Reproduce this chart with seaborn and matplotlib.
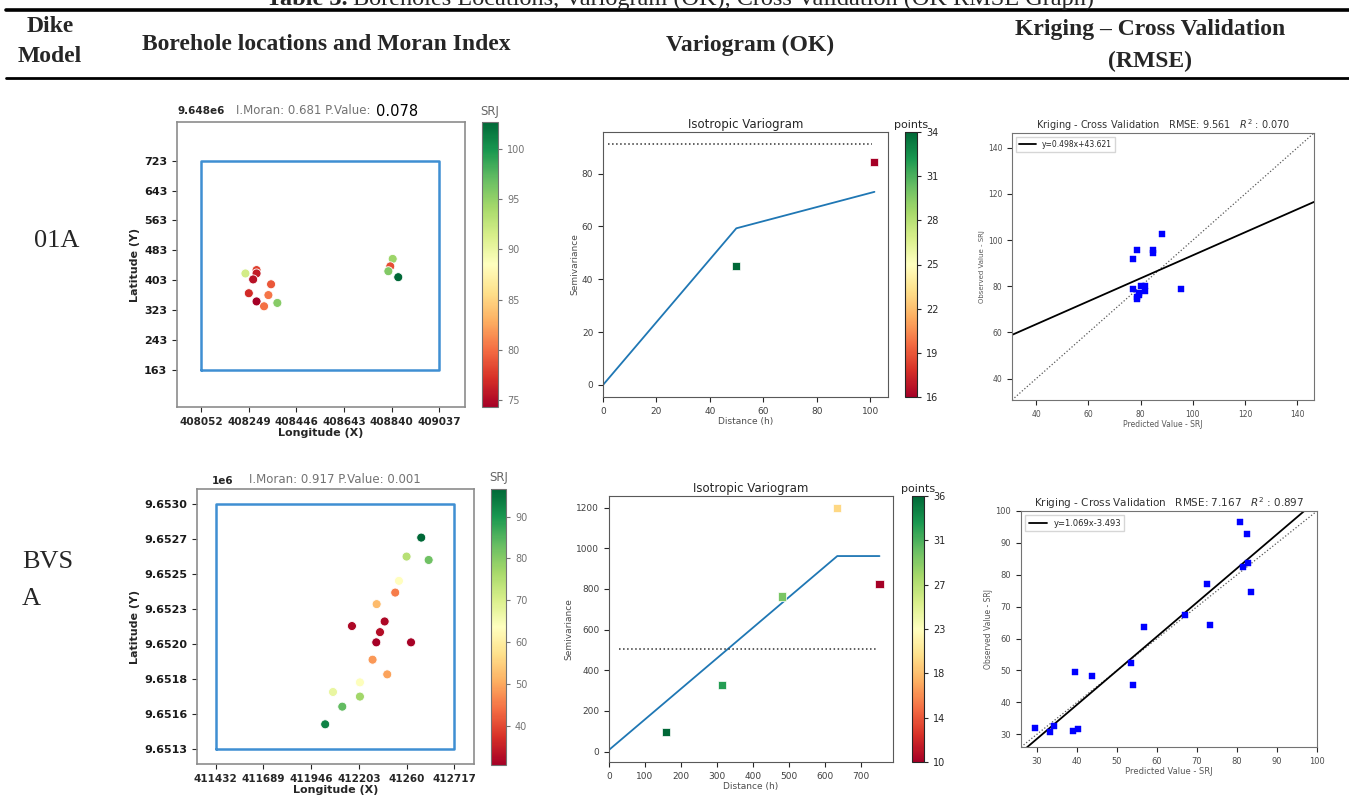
import numpy as np
import matplotlib
matplotlib.use("Agg")
import matplotlib.pyplot as plt
from matplotlib.colors import Normalize
from matplotlib.cm import ScalarMappable
from matplotlib.lines import Line2D
import seaborn as sns

sns.set_style("ticks")
plt.rcParams['font.family'] = ['DejaVu Sans']
plt.rcParams['xtick.major.size'] = 3.5
plt.rcParams['ytick.major.size'] = 3.5

W, H = 1349, 796

# ---------------- 01A ----------------
a_east = [408235, 408281, 408281, 408267, 408341, 408249, 408330,
          408281, 408312, 408367, 408844, 408834, 408826, 408867]
a_north = [9648421, 9648430, 9648421, 9648405, 9648392, 9648368, 9648363,
           9648346, 9648333, 9648342, 9648460, 9648440, 9648427, 9648411]
a_srj = [91.7, 77.9, 76.0, 75.3, 79.0, 76.9, 80.3,
         74.3, 80.1, 95.6, 94.5, 78.6, 95.8, 102.7]
a_rect_x = [408052, 409037]
a_rect_y = [9648163, 9648723]
a_moran = 0.681
a_pvalue = 0.078

a_lags = [49.9, 101.6]
a_gamma = [44.9, 84.5]
a_counts = [34, 16]
a_model_x = [0, 49.9, 101.6]
a_model_y = [0, 59.3, 73.1]
a_sill = 91.2
a_sill_x = [1.9, 100.6]

a_pred = [88.3, 78.6, 84.6, 84.8, 77.2, 95.5, 77.1, 80.3, 81.8, 81.8, 79.4, 79.4, 78.5, 78.7]
a_obs = [102.7, 95.6, 94.5, 95.8, 91.7, 79.0, 78.6, 80.3, 80.1, 77.9, 76.9, 76.0, 75.3, 74.3]
a_slope, a_icpt = 0.498, 43.621
a_rmse, a_r2 = 9.561, 0.070
a_cv_lims = [30.7, 146.4]

# ---------------- BVS A ----------------
b_east = [412539, 412460, 412579, 412419, 412399, 412299, 412166, 412342, 412317,
          412297, 412484, 412277, 412356, 412209, 412064, 412209, 412114, 412022]
b_north = [9652748, 9652620, 9652597, 9652456, 9652377, 9652299, 9652151, 9652182, 9652110,
           9652041, 9652041, 9651924, 9651825, 9651771, 9651706, 9651675, 9651607, 9651488]
b_srj = [96.6, 74.5, 82.4, 63.4, 45.3, 52.2, 31.8, 31.7, 32.5,
         30.6, 31.0, 48.3, 49.4, 64.1, 67.4, 77.1, 83.6, 92.8]
b_rect_x = [411432, 412717]
b_rect_y = [9651320, 9652972]
b_xticklabels = ["411432", "411689", "411946", "412203", "41260", "412717"]
b_moran = 0.917
b_pvalue = 0.001

b_lags = [157.7, 314.5, 480.5, 633.6, 750.7]
b_gamma = [96.6, 325.8, 763.0, 1198.0, 823.5]
b_counts = [36, 33, 30, 20, 10]
b_model_x = [0, 633.6, 750.7]
b_model_y = [8, 962, 962]
b_sill = 506
b_sill_x = [26.7, 743]

b_pred = [29.4, 33.3, 34.2, 39.1, 40.2, 39.6, 43.7, 53.5, 53.9,
          56.7, 67.0, 72.5, 73.3, 80.7, 82.5, 81.5, 82.7, 83.5]
b_obs = [31.9, 30.7, 32.7, 31.1, 31.8, 49.5, 48.4, 52.4, 45.5,
         63.5, 67.5, 77.1, 64.2, 96.6, 92.8, 82.5, 83.7, 74.6]
b_slope, b_icpt = 1.069, -3.493
b_rmse, b_r2 = 7.167, 0.897
b_cv_lims = [26, 100]


def box(l, t, r, b):
    return [l / W, 1 - b / H, (r - l) / W, (b - t) / H]


def fx(px):
    return px / W


def fy(py):
    return 1 - py / H


fig = plt.figure(figsize=(W / 100, H / 100), dpi=100)

# ---------------- table header ----------------
serif = ['Liberation Serif', 'DejaVu Serif']
t1 = fig.text(fx(266), fy(5), "Table 3.", fontsize=17.5, fontweight='bold',
              family=serif, va='baseline')
fig.canvas.draw()
t1_right = t1.get_window_extent().x1
fig.text(t1_right / W + fx(5), fy(5),
         "Boreholes Locations, Variogram (OK), Cross Validation (OK RMSE Graph)",
         fontsize=17.5, family=serif, va='baseline')
fig.add_artist(Line2D([fx(6), 1], [fy(10), fy(10)], lw=2.6, color='k'))
fig.add_artist(Line2D([fx(6), 1], [fy(78), fy(78)], lw=2.0, color='k'))
hdr = dict(fontsize=17, fontweight='bold', family=serif, ha='center', va='center')
fig.text(fx(50), fy(27), "Dike", **hdr)
fig.text(fx(50), fy(56), "Model", **hdr)
fig.text(fx(326), fy(45), "Borehole locations and Moran Index", **hdr)
fig.text(fx(750), fy(45), "Variogram (OK)", **hdr)
fig.text(fx(1150), fy(30), "Kriging \u2013 Cross Validation", **hdr)
fig.text(fx(1150), fy(61), "(RMSE)", **hdr)
row = dict(fontsize=19, family=serif, va='center')
fig.text(fx(57), fy(241), "01A", ha='center', **row)
fig.text(fx(22), fy(562), "BVS", ha='left', **row)
fig.text(fx(22), fy(599), "A", ha='left', **row)


def moran_panel(axbox, cbox, east, north, srj, rect_x, rect_y, ylab_fmt, xlabels,
                offset_txt, offset_pos, moran, pval, title_pos, big_p):
    ax = fig.add_axes(box(*axbox))
    cax = fig.add_axes(box(*cbox))
    norm = Normalize(min(srj), max(srj))
    ax.plot([rect_x[0], rect_x[1], rect_x[1], rect_x[0], rect_x[0]],
            [rect_y[0], rect_y[0], rect_y[1], rect_y[1], rect_y[0]],
            color='#3f8fd2', lw=1.8, zorder=2)
    sns.scatterplot(x=east, y=north, hue=srj, palette='RdYlGn', hue_norm=(min(srj), max(srj)),
                    s=42, edgecolor='white', linewidth=0.6, legend=False, ax=ax, zorder=3)
    ax.set_xlim(rect_x[0] - 100, rect_x[1] + 106)
    ax.set_ylim(rect_y[0] - 100, rect_y[1] + 104)
    xt = np.linspace(rect_x[0], rect_x[1], 6)
    yt = np.linspace(rect_y[0], rect_y[1], 8)
    ax.set_xticks(xt)
    ax.set_xticklabels(xlabels if xlabels else [f"{v:.0f}" for v in xt],
                       fontsize=7.5, fontweight='bold', color='0.15')
    ax.set_yticks(yt)
    ax.set_yticklabels([ylab_fmt(v) for v in yt], fontsize=8, fontweight='bold', color='0.1')
    ax.set_xlabel("Longitude (X)", fontsize=8, fontweight='bold', labelpad=1)
    ax.set_ylabel("Latitude (Y)", fontsize=8, fontweight='bold', labelpad=3)
    for sp in ax.spines.values():
        sp.set_color('0.55')
        sp.set_linewidth(1.2)
    cb = fig.colorbar(ScalarMappable(norm=norm, cmap='RdYlGn'), cax=cax)
    cb.outline.set_edgecolor('0.45')
    cax.tick_params(labelsize=7, labelcolor='0.45', color='0.45', length=3)
    fig.text(fx(cbox[0] + 8), fy(cbox[1] - 11), "SRJ", fontsize=8.5, color='0.4',
             ha='center', va='center')
    fig.text(fx(offset_pos[0]), fy(offset_pos[1]), offset_txt, fontsize=7.5,
             fontweight='bold', va='center', ha='left')
    if big_p:
        fig.text(fx(title_pos[0]), fy(title_pos[1]), f"I.Moran: {moran:.3f} P.Value:",
                 fontsize=8.5, color='0.45', ha='right', va='center')
        fig.text(fx(title_pos[0] + 6), fy(title_pos[1]), f"{pval:.3f}",
                 fontsize=10.5, color='k', ha='left', va='center')
    else:
        fig.text(fx(title_pos[0]), fy(title_pos[1]),
                 f"I.Moran: {moran:.3f} P.Value: {pval:.3f}",
                 fontsize=8.5, color='0.45', ha='center', va='center')
    return ax


def variogram_panel(axbox, cbox, lags, gamma, counts, model_x, model_y, sill, sill_x):
    ax = fig.add_axes(box(*axbox))
    cax = fig.add_axes(box(*cbox))
    sns.lineplot(x=model_x, y=model_y, color='#1f77b4', lw=1.3, ax=ax)
    ax.plot(sill_x, [sill, sill], ls=':', color='0.2', lw=1.1)
    sns.scatterplot(x=lags, y=gamma, hue=counts, palette='RdYlGn',
                    hue_norm=(min(counts), max(counts)), marker='s', s=34,
                    edgecolor='white', linewidth=0.5, legend=False, ax=ax, zorder=3)
    ax.set_xlim(left=0)
    ax.set_title("Isotropic Variogram", fontsize=8.5, pad=3)
    ax.set_xlabel("Distance (h)", fontsize=6.5, labelpad=1, color='0.3')
    ax.set_ylabel("Semivariance", fontsize=6.5, labelpad=2, color='0.3')
    ax.tick_params(labelsize=6.5, labelcolor='0.25')
    for sp in ax.spines.values():
        sp.set_color('0.35')
    norm = Normalize(min(counts), max(counts))
    cb = fig.colorbar(ScalarMappable(norm=norm, cmap='RdYlGn'), cax=cax)
    ticks = np.linspace(min(counts), max(counts), 7)
    cb.set_ticks(ticks)
    cb.set_ticklabels([str(int(t)) for t in ticks])
    cax.tick_params(labelsize=7, length=3)
    cax.set_title("points", fontsize=8, pad=3)
    return ax


def cv_panel(axbox, pred, obs, slope, icpt, rmse, r2, lims, fs):
    ax = fig.add_axes(box(*axbox))
    lims = np.array(lims)
    ax.plot(lims, lims, ls=':', color='0.35', lw=0.9)
    ax.plot(lims, slope * lims + icpt, color='k', lw=1.3,
            label=f"y={slope:.3f}x{icpt:+.3f}")
    sns.scatterplot(x=pred, y=obs, color='blue', marker='s', s=14, edgecolor='blue',
                    linewidth=0.3, ax=ax, zorder=3)
    ax.set_xlim(*lims)
    ax.set_ylim(*lims)
    ax.set_title(f"Kriging - Cross Validation   RMSE: {rmse:.3f}   $R^2$ : {r2:.3f}",
                 fontsize=fs + 1.5, pad=3, color='0.2')
    ax.set_xlabel("Predicted Value - SRJ", fontsize=fs, labelpad=1, color='0.35')
    ax.set_ylabel("Observed Value - SRJ", fontsize=fs - 0.5, labelpad=2, color='0.35')
    ax.tick_params(labelsize=fs, labelcolor='0.3')
    ax.legend(loc='upper left', fontsize=fs, frameon=True, handlelength=2.2,
              borderpad=0.4, fancybox=False, edgecolor='0.8')
    for sp in ax.spines.values():
        sp.set_color('0.45')
    return ax


# ---------------- row 01A ----------------
moran_panel((177, 122, 465, 407), (482, 122, 498, 407), a_east, a_north, a_srj,
            a_rect_x, a_rect_y, lambda v: f"{v - 9648000:.0f}", None,
            "9.648e6", (178, 111), a_moran, a_pvalue, (370, 111), True)
variogram_panel((603, 132, 888, 397), (905, 132, 917, 397), a_lags, a_gamma, a_counts,
                a_model_x, a_model_y, a_sill, a_sill_x)
ax3 = cv_panel((1012, 133, 1314, 400), a_pred, a_obs, a_slope, a_icpt, a_rmse, a_r2,
               a_cv_lims, 5.5)
ax3.set_xticks([40, 60, 80, 100, 120, 140])
ax3.set_yticks([40, 60, 80, 100, 120, 140])

# ---------------- row BVS A ----------------
moran_panel((197, 489, 474, 764), (491, 489, 506, 765), b_east, b_north, b_srj,
            b_rect_x, b_rect_y, lambda v: f"{v / 1e6:.4f}", b_xticklabels,
            "1e6", (212, 481), b_moran, b_pvalue, (335, 480), False)
variogram_panel((609, 496, 893, 762), (912, 496, 924, 762), b_lags, b_gamma, b_counts,
                b_model_x, b_model_y, b_sill, b_sill_x)
cv_panel((1021, 511, 1317, 747), b_pred, b_obs, b_slope, b_icpt, b_rmse, b_r2,
         b_cv_lims, 6)

fig.savefig("out.png", dpi=100)
